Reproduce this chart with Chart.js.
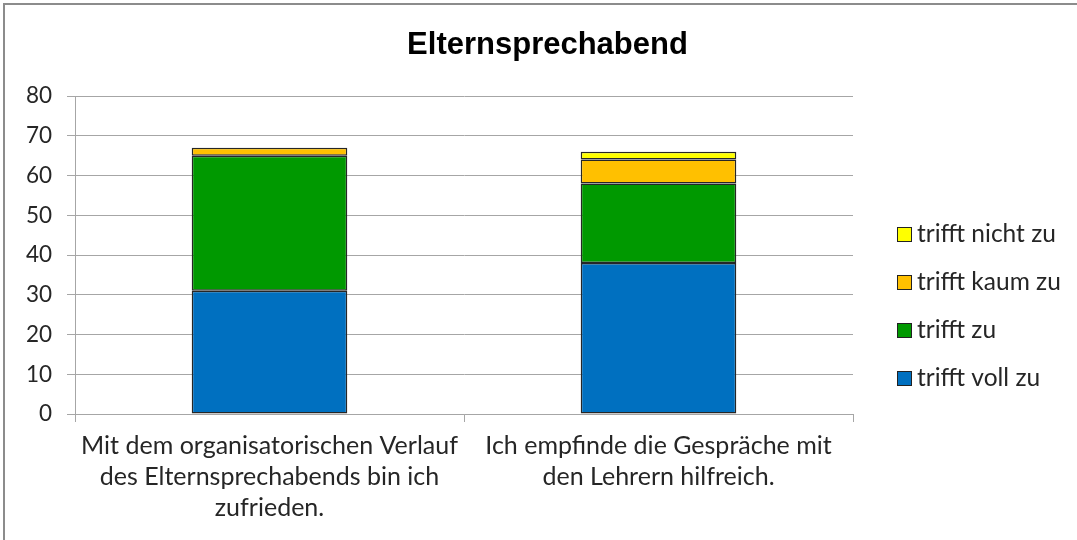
<!DOCTYPE html>
<html>
<head>
<meta charset="utf-8">
<script src="https://cdn.jsdelivr.net/npm/chart.js@4"></script>
<style>
    html, body { margin: 0; padding: 0; background: #fff; overflow: hidden; }
    #chart { display: block; }
</style>
</head>
<body>
<canvas id="chart" width="1077" height="540"></canvas>
<script>
// Categories (multi-line tick labels)
const categories = [
    ['Mit dem organisatorischen Verlauf', 'des Elternsprechabends bin ich', 'zufrieden.'],
    ['Ich empfinde die Gespräche mit', 'den Lehrern hilfreich.']
];

// Series values, bottom to top
const seriesNames = ['trifft voll zu', 'trifft zu', 'trifft kaum zu', 'trifft nicht zu'];
const vollZu = [31, 38];
const zu = [34, 20];
const kaumZu = [2, 6];
const nichtZu = [0, 2];
const seriesColors = ['#0070C0', '#009900', '#FFC000', '#FFFF00'];

const yTicks = [0, 10, 20, 30, 40, 50, 60, 70, 80];
const chartTitle = 'Elternsprechabend';

const textColor = '#262626';
const gridColor = '#a6a6a6';
const bodyFont = 'Lato, "Open Sans", sans-serif';

// Outer frame + title centred on the whole chart object
const framePlugin = {
    id: 'frame',
    beforeDraw(chart) {
        const ctx = chart.ctx;
        ctx.save();
        ctx.fillStyle = '#fff';
        ctx.fillRect(0, 0, chart.width, chart.height);
        ctx.strokeStyle = '#8c8c8c';
        ctx.lineWidth = 2;
        ctx.strokeRect(4, 4, chart.width + 20, chart.height + 20);
        ctx.fillStyle = '#000';
        ctx.font = 'bold 31px "Liberation Sans", Arial, sans-serif';
        ctx.textAlign = 'center';
        ctx.textBaseline = 'middle';
        ctx.fillText(chartTitle, chart.width / 2 + 9, 45);
        ctx.restore();
    }
};

// Legend on the right, top series first
const sideLegend = {
    id: 'sideLegend',
    afterDraw(chart) {
        const ctx = chart.ctx;
        const sets = chart.data.datasets;
        const x = chart.chartArea.right + 44;
        let y = 234;
        ctx.save();
        ctx.font = '24.5px ' + bodyFont;
        ctx.textBaseline = 'middle';
        for (let i = sets.length - 1; i >= 0; i--) {
            ctx.fillStyle = sets[i].backgroundColor;
            ctx.fillRect(x, y - 7, 15, 15);
            ctx.strokeStyle = '#222';
            ctx.lineWidth = 1;
            ctx.strokeRect(x + 0.5, y - 6.5, 14, 14);
            ctx.fillStyle = textColor;
            ctx.fillText(sets[i].label, x + 20, y);
            y += 48;
        }
        ctx.restore();
    }
};

const values = [vollZu, zu, kaumZu, nichtZu];

new Chart(document.getElementById('chart'), {
    type: 'bar',
    data: {
        labels: categories,
        datasets: seriesNames.map((name, i) => ({
            label: name,
            data: values[i],
            backgroundColor: seriesColors[i],
            borderColor: '#262626',
            borderWidth: 1.5,
            borderSkipped: false,
            categoryPercentage: 0.8,
            barPercentage: 0.5
        }))
    },
    options: {
        responsive: false,
        animation: false,
        layout: { padding: { left: 0, right: 224, top: 96, bottom: 0 } },
        plugins: {
            legend: { display: false },
            tooltip: { enabled: false },
            title: { display: false }
        },
        scales: {
            x: {
                stacked: true,
                afterFit(scale) { scale.height = 126; },
                grid: {
                    drawOnChartArea: false,
                    color: gridColor,
                    tickLength: 8,
                    offset: true
                },
                border: { color: gridColor, width: 1 },
                ticks: {
                    color: textColor,
                    padding: 8,
                    maxRotation: 0,
                    font: { family: bodyFont, size: 25, lineHeight: 1.24 }
                }
            },
            y: {
                stacked: true,
                min: 0,
                max: 80,
                afterFit(scale) { scale.width = 75; },
                afterBuildTicks(scale) { scale.ticks = yTicks.map(v => ({ value: v })); },
                grid: { color: gridColor, tickLength: 8 },
                border: { color: gridColor, width: 1 },
                ticks: {
                    color: textColor,
                    padding: 15,
                    font: { family: bodyFont, size: 22.5 }
                }
            }
        }
    },
    plugins: [framePlugin, sideLegend]
});
</script>
</body>
</html>
